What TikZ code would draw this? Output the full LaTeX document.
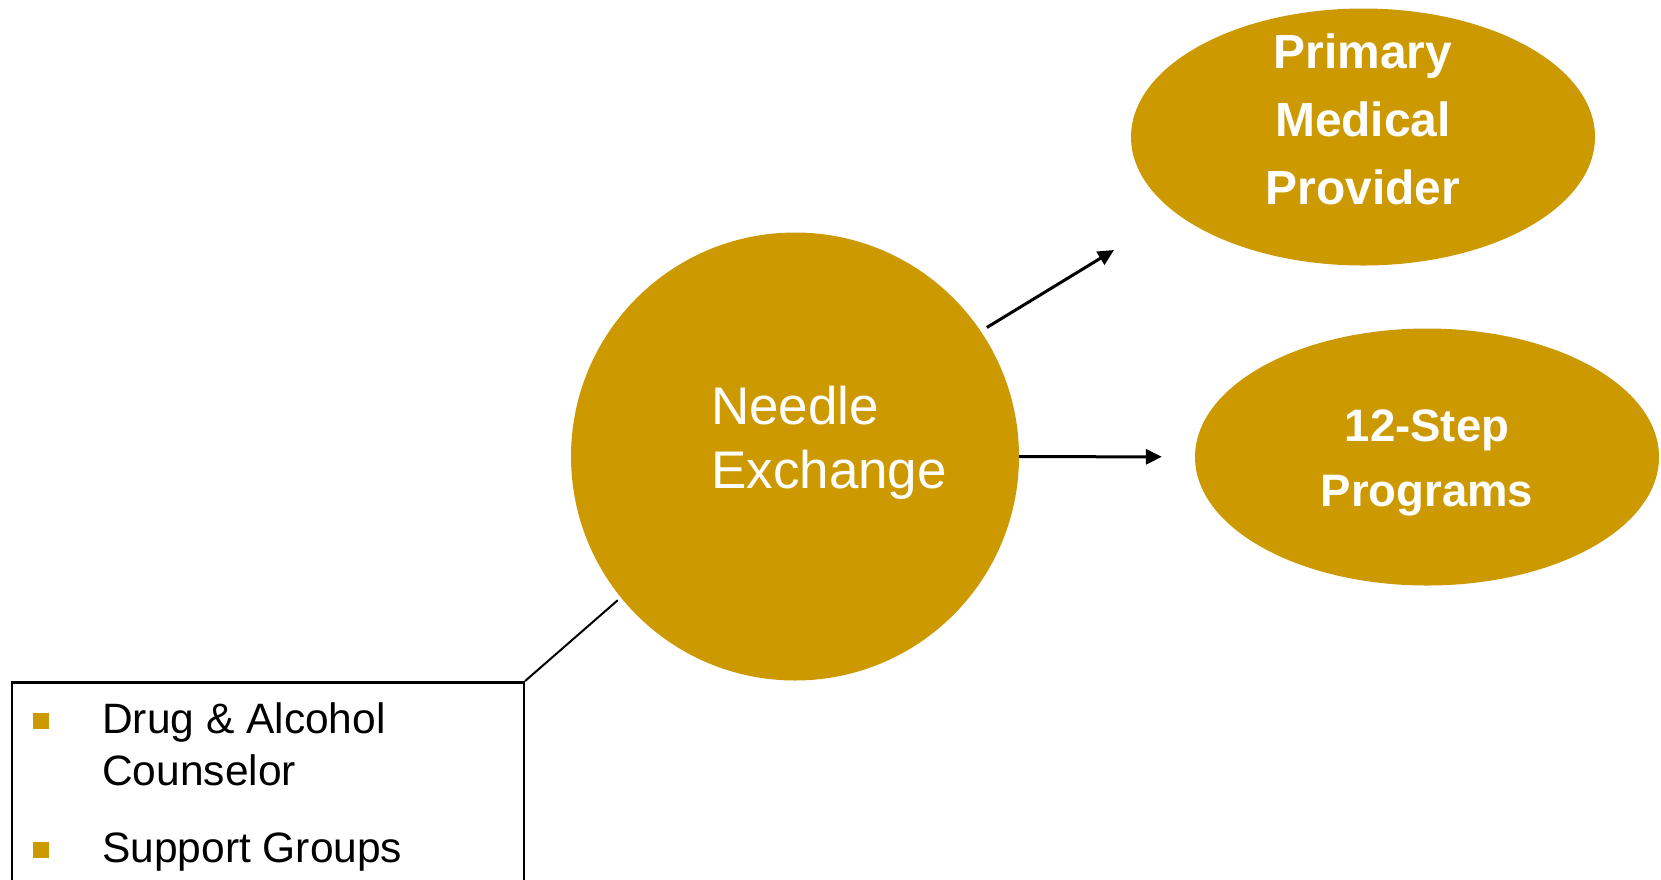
\documentclass[tikz,border=0pt]{standalone}
\usepackage{fontspec}
\setmainfont{Liberation Sans}
\usetikzlibrary{arrows.meta, shapes.geometric, positioning}
\definecolor{gold}{RGB}{204,153,0}
\tikzset{
    hub/.style={circle, fill=gold, inner sep=0pt, minimum size=448pt},
    bubble/.style={ellipse, fill=gold, inner sep=0pt, minimum width=464pt, minimum height=257pt},
    bubbletext/.style={text=white, align=center, inner sep=0pt},
    listbox/.style={draw, line width=2.5pt, anchor=north west, inner sep=0pt, minimum width=512pt, minimum height=230pt},
    bullet/.style={fill=gold, inner sep=0pt, minimum size=16pt},
    itemtext/.style={align=left, inner sep=0pt, font=\fontsize{42.5}{52}\selectfont},
    link/.style={line width=3pt, -{Triangle[length=16pt, width=15pt]}}
}
\begin{document}
\begin{tikzpicture}[x=1pt, y=-1pt]
    \useasboundingbox (0,0) rectangle (1661,879);

    \node[hub] (needle) at (795,456.5) {};
    \node[bubbletext, align=left, anchor=west, font=\fontsize{53}{64}\selectfont] (needletext) at (711,442.5) {Needle\\Exchange};

    \node[bubble] (primary) at (1363,137) {};
    \node[bubbletext, font=\bfseries\fontsize{47.9}{68}\selectfont] (primarytext) at (1363,119) {Primary\\Medical\\Provider};

    \node[bubble] (steps) at (1427,457) {};
    \node[bubbletext, font=\bfseries\fontsize{45.5}{65}\selectfont] (stepstext) at (1427,463) {12-Step\\Programs};

    % the list box runs off the bottom edge
    \node[listbox] (counsel) at (10.6,681) {};
    \node[bullet] (dot1) at (40.5,721) {};
    \node[itemtext, anchor=west] (drug) at (102,744.5) {Drug \& Alcohol\\Counselor};
    \node[bullet] (dot2) at (40.5,850) {};
    \node[itemtext, anchor=base west] (support) at (102,862) {Support Groups};

    \coordinate (tipA) at (1114,250);
    \draw[link, shorten <=7pt] (needle.34) -- (tipA);
    \draw[link, shorten >=33pt] (needle) -- (steps);
    \draw[line width=2pt, shorten >=4pt] (counsel.north east) -- (needle.219.5);
\end{tikzpicture}
\end{document}
